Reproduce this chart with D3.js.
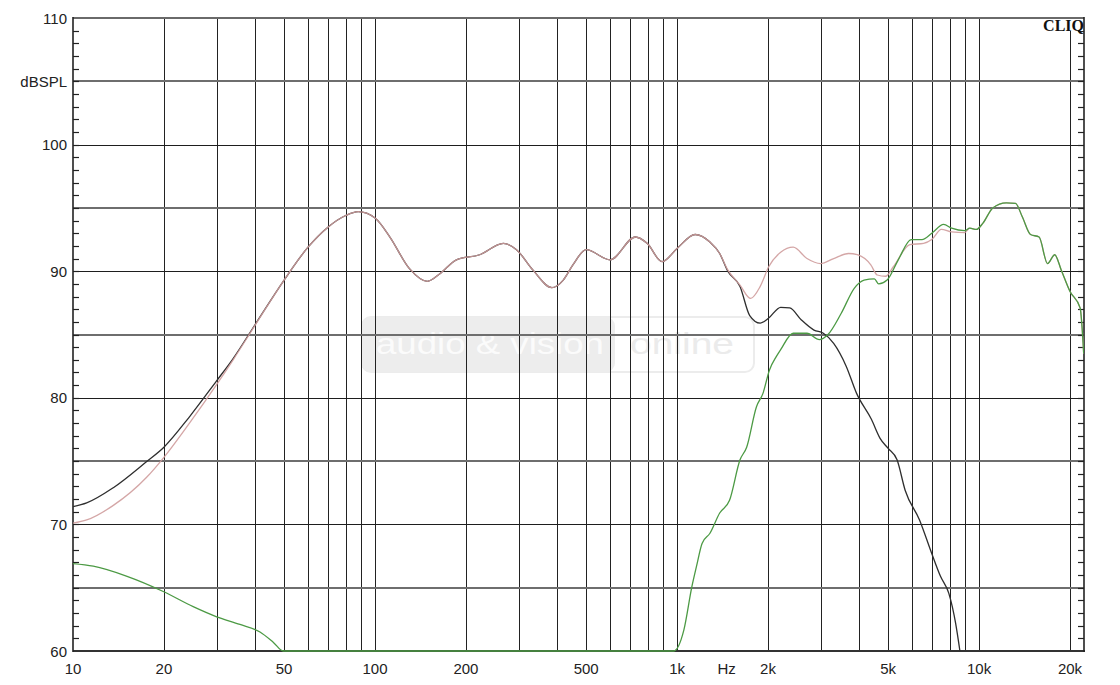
<!DOCTYPE html>
<html>
<head>
<meta charset="utf-8">
<script src="https://cdn.jsdelivr.net/npm/d3@7"></script>
<style>
  html, body { margin: 0; padding: 0; background: #fff; }
  svg { display: block; }
</style>
</head>
<body>
<svg id="chart" width="1120" height="685"></svg>
<script>
// ---------------- DATA ----------------
const xTickLabels = [[10, "10"], [20, "20"], [50, "50"], [100, "100"], [200, "200"], [500, "500"],
  [1000, "1k"], [1460, "Hz"], [2000, "2k"], [5000, "5k"], [10000, "10k"], [20000, "20k"]];
const yTickLabels = [[110, "110"], [105, "dBSPL"], [100, "100"], [90, "90"], [80, "80"], [70, "70"], [60, "60"]];
const xGridFreqs = [20, 30, 40, 50, 60, 70, 80, 90, 100, 200, 300, 400, 500, 600, 700, 800, 900,
  1000, 2000, 3000, 4000, 5000, 6000, 7000, 8000, 9000, 10000, 20000];
const yMajorGrid = [70, 80, 90, 100];
const yMinorGrid = [65, 75, 85, 95, 105];

// total response (black)
const blackData = [[10, 71.4], [11.1, 71.7], [13.6, 72.9], [17.5, 74.95], [20, 76.1], [24.3, 78.5], [29.8, 81.3],
  [33.9, 83.1], [40, 85.75], [50, 89.3], [60, 91.9], [70, 93.5], [80, 94.4], [88, 94.7], [100, 94.2], [112, 92.7],
  [130, 90.2], [149, 89.2], [164, 89.8], [186, 90.9], [222, 91.3], [266, 92.2], [294, 91.7], [333, 90.1], [385, 88.7],
  [420, 89.3], [452, 90.5], [500, 91.7], [600, 90.9], [728, 92.7], [796, 92.2], [892, 90.75], [1000, 91.8],
  [1148, 92.9], [1285, 92.3], [1384, 91.4], [1472, 90.0], [1616, 88.8], [1740, 86.5], [1885, 85.9], [2011, 86.3],
  [2203, 87.15], [2360, 87.1], [2580, 86.15], [2840, 85.35], [3050, 85.1], [3300, 84.3], [3630, 82.5], [3930, 80.35],
  [4400, 78.3], [4700, 76.8], [5000, 76.0], [5350, 75.1], [5690, 72.7], [6350, 70.35], [6970, 67.7], [7450, 65.9],
  [7940, 64.55], [8360, 62.2], [8640, 60.0]];

// second response (pink)
const pinkData = [[10, 70.1], [11.1, 70.35], [13.6, 71.5], [17.5, 73.7], [20, 75.3], [24.3, 78.0], [29.8, 81.0],
  [33.9, 83.0], [40, 85.7], [50, 89.3], [60, 91.9], [70, 93.5], [80, 94.4], [88, 94.7], [100, 94.2], [112, 92.7],
  [130, 90.2], [149, 89.2], [164, 89.8], [186, 90.9], [222, 91.3], [266, 92.2], [294, 91.7], [333, 90.1], [385, 88.7],
  [420, 89.3], [452, 90.5], [500, 91.7], [600, 90.9], [728, 92.7], [796, 92.2], [892, 90.75], [1000, 91.8],
  [1148, 92.9], [1285, 92.3], [1384, 91.4], [1472, 90.1], [1616, 88.9], [1752, 87.85], [1885, 88.8], [2011, 90.35],
  [2203, 91.5], [2424, 91.9], [2692, 91.0], [2988, 90.6], [3300, 91.0], [3700, 91.4], [3950, 91.3], [4380, 90.5],
  [4600, 89.7], [4900, 89.6], [5200, 90.35], [5900, 92.1], [6550, 92.2], [6970, 92.5], [7500, 93.3], [8110, 93.1],
  [8960, 93.05], [9310, 93.4], [9800, 93.3], [10300, 93.8], [11100, 95.0], [12300, 95.4], [13200, 95.35],
  [13900, 94.3], [14800, 92.9], [15800, 92.7], [16850, 90.6], [17800, 91.3], [18700, 90.1], [20000, 88.4],
  [21600, 87.1], [22200, 83.5]];

// tweeter response (green)
const greenData = [[10, 66.9], [11.67, 66.7], [15.1, 65.9], [19.9, 64.7], [25, 63.5], [29.9, 62.7], [35.7, 62.1],
  [41.6, 61.5], [46, 60.7], [49.7, 60.0], [975, 60.0], [1053, 61.65], [1120, 65.1], [1160, 66.7], [1210, 68.5],
  [1285, 69.3], [1384, 70.9], [1492, 71.9], [1616, 75.1], [1700, 76.1], [1832, 79.3], [1925, 80.35], [2023, 82.2],
  [2130, 83.25], [2203, 83.8], [2424, 85.1], [2692, 85.1], [2960, 84.6], [3160, 85.0], [3500, 86.7], [3860, 88.65],
  [4160, 89.3], [4500, 89.4], [4650, 89.0], [4960, 89.3], [5400, 90.9], [5960, 92.5], [6470, 92.5], [6970, 93.0],
  [7630, 93.7], [8110, 93.4], [8960, 93.2], [9310, 93.4], [9800, 93.3], [10300, 93.8], [11100, 95.0], [12300, 95.4],
  [13200, 95.35], [13900, 94.3], [14800, 92.9], [15800, 92.7], [16850, 90.6], [17800, 91.3], [18700, 90.1],
  [20000, 88.4], [21600, 87.1], [22200, 83.5]];

// ---------------- CHART ----------------
const svg = d3.select("#chart");
const L = 73, T = 18, R = 1084, B = 651;

const x = d3.scaleLog().domain([10, 22250]).range([L, R]);
const y = d3.scaleLinear().domain([60, 110]).range([B, T]).clamp(true);
const px = v => Math.round(v) + 0.5;

// watermark
const wm = svg.append("g");
wm.append("rect").attr("x", 362).attr("y", 317).attr("width", 392).attr("height", 55).attr("rx", 9)
  .attr("fill", "#fff").attr("stroke", "#ececec").attr("stroke-width", 2);
wm.append("rect").attr("x", 362).attr("y", 317).attr("width", 253).attr("height", 55).attr("rx", 9)
  .attr("fill", "#ededed");
wm.append("text").attr("x", 376).attr("y", 354).attr("textLength", 228).attr("lengthAdjust", "spacingAndGlyphs")
  .attr("font-family", "Liberation Sans, Arial, sans-serif").attr("font-size", 30).attr("fill", "#fbfbfb")
  .text("audio & vision");
wm.append("text").attr("x", 630).attr("y", 354).attr("textLength", 104).attr("lengthAdjust", "spacingAndGlyphs")
  .attr("font-family", "Liberation Sans, Arial, sans-serif").attr("font-size", 30).attr("fill", "#ebebeb")
  .text("online");

// vertical grid
svg.append("g").selectAll("line").data(xGridFreqs).join("line")
  .attr("x1", d => px(x(d))).attr("x2", d => px(x(d)))
  .attr("y1", T).attr("y2", B)
  .attr("stroke", "#222").attr("stroke-width", 1);

// horizontal grid
svg.append("g").selectAll("line").data(yMinorGrid).join("line")
  .attr("x1", L).attr("x2", R).attr("y1", d => Math.round(y(d))).attr("y2", d => Math.round(y(d)))
  .attr("stroke", "#6e6e6e").attr("stroke-width", 2);
svg.append("g").selectAll("line").data(yMajorGrid).join("line")
  .attr("x1", L).attr("x2", R).attr("y1", d => px(y(d))).attr("y2", d => px(y(d)))
  .attr("stroke", "#1e1e1e").attr("stroke-width", 1);

// minor ticks every 1 dB, both sides
const oneDb = d3.range(61, 110, 1);
svg.append("g").selectAll("line").data(oneDb).join("line")
  .attr("x1", L).attr("x2", L + 6).attr("y1", d => px(y(d))).attr("y2", d => px(y(d)))
  .attr("stroke", "#222").attr("stroke-width", 1.2);
svg.append("g").selectAll("line").data(oneDb).join("line")
  .attr("x1", R - 6).attr("x2", R).attr("y1", d => px(y(d))).attr("y2", d => px(y(d)))
  .attr("stroke", "#222").attr("stroke-width", 1.2);

// frame
svg.append("line").attr("x1", L).attr("x2", R).attr("y1", T).attr("y2", T).attr("stroke", "#6a6a6a").attr("stroke-width", 2);
svg.append("line").attr("x1", L).attr("x2", R + 1).attr("y1", B).attr("y2", B).attr("stroke", "#333").attr("stroke-width", 2);
svg.append("line").attr("x1", L).attr("x2", L).attr("y1", T - 1).attr("y2", B + 1).attr("stroke", "#222").attr("stroke-width", 1.6);
svg.append("line").attr("x1", R).attr("x2", R).attr("y1", T - 1).attr("y2", B + 1).attr("stroke", "#222").attr("stroke-width", 1.6);

// CLIQ logo
svg.append("rect").attr("x", 1042).attr("y", 19).attr("width", 41).attr("height", 12).attr("fill", "#fff");
svg.append("text").attr("x", 1084).attr("y", 31).attr("text-anchor", "end")
  .attr("font-family", "Liberation Serif, Times New Roman, serif").attr("font-weight", "bold")
  .attr("font-size", 16).attr("fill", "#111").text("CLIQ");

// curves
svg.append("defs").append("clipPath").attr("id", "plotClip")
  .append("rect").attr("x", L).attr("y", T).attr("width", R - L).attr("height", B - T + 2);

const line = d3.line().x(d => x(d[0])).y(d => y(d[1])).curve(d3.curveMonotoneX);
const curves = svg.append("g").attr("clip-path", "url(#plotClip)");
curves.append("path").datum(blackData).attr("d", line).attr("fill", "none")
  .attr("stroke", "#2e2e2e").attr("stroke-width", 1.3);
curves.append("path").datum(pinkData).attr("d", line).attr("fill", "none")
  .attr("stroke", "#cf9c9c").attr("stroke-width", 1.3).attr("opacity", 0.9);
curves.append("path").datum(greenData).attr("d", line).attr("fill", "none")
  .attr("stroke", "#4c9a44").attr("stroke-width", 1.3);

// tick labels
const font = "Liberation Sans, Arial, sans-serif";
svg.append("g").selectAll("text").data(xTickLabels).join("text")
  .attr("x", d => x(d[0])).attr("y", 674).attr("text-anchor", "middle")
  .attr("font-family", font).attr("font-size", 15).attr("fill", "#222")
  .text(d => d[1]);
svg.append("g").selectAll("text").data(yTickLabels).join("text")
  .attr("x", 67).attr("y", d => y(d[0]) + 5.5).attr("text-anchor", "end")
  .attr("font-family", font).attr("font-size", 15).attr("fill", "#222")
  .text(d => d[1]);
</script>
</body>
</html>
